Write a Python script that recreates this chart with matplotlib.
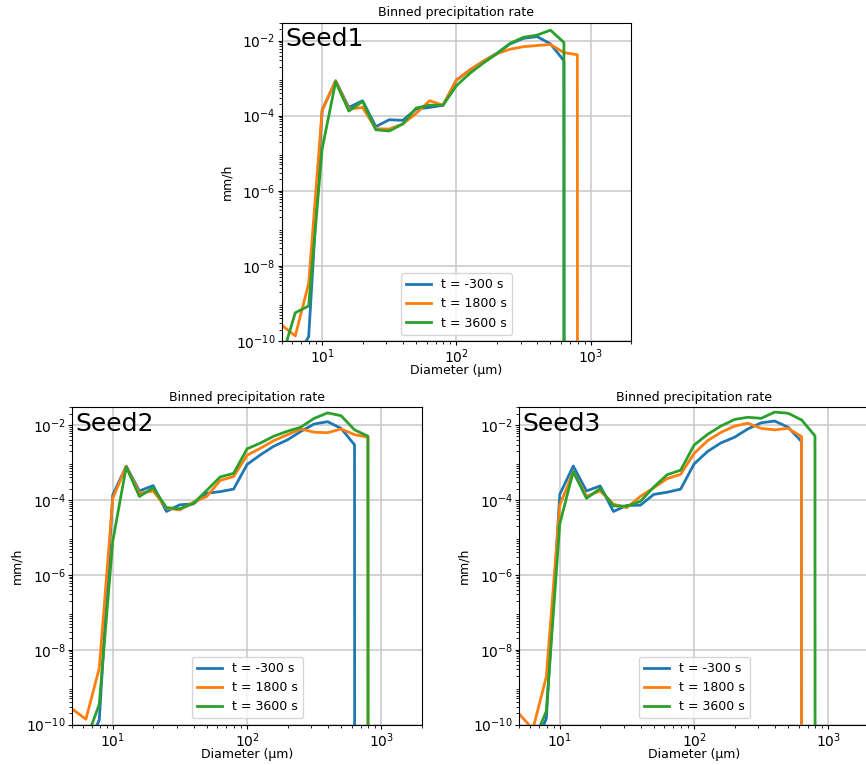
import matplotlib
matplotlib.use('Agg')
import matplotlib.pyplot as plt

# bin centre diameters (um)
diameter = [5.01, 6.31, 7.94, 10.0, 12.6, 15.8, 20.0, 25.1, 31.6, 39.8, 50.1, 63.1,
            79.4, 100.0, 126.0, 158.0, 200.0, 251.0, 316.0, 398.0, 501.0, 631.0, 794.0, 1000.0]

labels = ['t = -300 s', 't = 1800 s', 't = 3600 s']
colors = ['#1f77b4', '#ff7f0e', '#2ca02c']

seed1_m300 = [1e-12, 3e-11, 1.3e-10, 1.4e-4, 8.5e-4, 1.66e-4, 2.5e-4, 5.1e-5, 7.8e-5, 7.5e-5, 1.5e-4, 1.66e-4,
              1.9e-4, 8.9e-4, 1.66e-3, 2.8e-3, 4.6e-3, 8.2e-3, 1.15e-2, 1.28e-2, 8.2e-3, 2.9e-3, 0, 0]
seed1_1800 = [2.6e-10, 1.35e-10, 3.4e-9, 1.4e-4, 8.5e-4, 1.5e-4, 1.66e-4, 4.5e-5, 4.4e-5, 6e-5, 1.15e-4, 2.5e-4,
              1.9e-4, 8.9e-4, 1.66e-3, 2.8e-3, 4.5e-3, 5.9e-3, 6.9e-3, 7.4e-3, 7.9e-3, 4.8e-3, 4.2e-3, 0]
seed1_3600 = [3.6e-11, 5.6e-10, 8.5e-10, 1.3e-5, 8e-4, 1.33e-4, 2.4e-4, 4.2e-5, 3.9e-5, 6e-5, 1.6e-4, 1.9e-4,
              1.9e-4, 6.3e-4, 1.35e-3, 2.5e-3, 4.5e-3, 8.5e-3, 1.23e-2, 1.4e-2, 1.9e-2, 8.9e-3, 0, 0]

seed2_m300 = [1e-12, 2e-11, 1.35e-10, 1.35e-4, 7.9e-4, 1.73e-4, 2.4e-4, 4.9e-5, 7.4e-5, 7.8e-5, 1.5e-4, 1.66e-4,
              1.94e-4, 8.8e-4, 1.6e-3, 2.7e-3, 4e-3, 6.7e-3, 1.06e-2, 1.22e-2, 8.1e-3, 2.95e-3, 0, 0]
seed2_1800 = [2.6e-10, 1.4e-10, 3.2e-9, 1.1e-4, 7.9e-4, 1.5e-4, 1.73e-4, 6e-5, 5.4e-5, 8.7e-5, 1.23e-4, 3.3e-4,
              4.2e-4, 1.55e-3, 2.4e-3, 3.8e-3, 5.5e-3, 7.8e-3, 6.4e-3, 6.2e-3, 7.8e-3, 5.5e-3, 4.7e-3, 0]
seed2_3600 = [1e-12, 3.7e-11, 3.5e-10, 7.9e-6, 7.6e-4, 1.23e-4, 2.1e-4, 6.2e-5, 5.8e-5, 8e-5, 1.8e-4, 4.1e-4,
              5.1e-4, 2.3e-3, 3.3e-3, 5e-3, 6.8e-3, 8.7e-3, 1.5e-2, 2.1e-2, 1.76e-2, 7.4e-3, 5e-3, 0]

seed3_m300 = [1e-12, 2e-11, 1.45e-10, 1.4e-4, 8e-4, 1.73e-4, 2.35e-4, 4.9e-5, 7.1e-5, 7.2e-5, 1.4e-4, 1.6e-4,
              1.94e-4, 9.1e-4, 1.96e-3, 3.3e-3, 4.7e-3, 7.8e-3, 1.14e-2, 1.27e-2, 8.7e-3, 3.6e-3, 0, 0]
seed3_1800 = [1.9e-10, 7.6e-11, 1.9e-9, 7.2e-5, 5.6e-4, 1.25e-4, 1.73e-4, 7.7e-5, 6.2e-5, 1.24e-4, 2.1e-4, 3.7e-4,
              4.8e-4, 1.73e-3, 3.8e-3, 6.3e-3, 9.3e-3, 1.11e-2, 8.1e-3, 7.4e-3, 8.1e-3, 4.9e-3, 0, 0]
seed3_3600 = [1e-12, 3.2e-11, 2.3e-10, 2.3e-5, 5.7e-4, 1.1e-4, 2e-4, 6.9e-5, 6.8e-5, 9.1e-5, 2.2e-4, 4.7e-4,
              6.2e-4, 2.9e-3, 5.6e-3, 9.3e-3, 1.4e-2, 1.6e-2, 1.5e-2, 2.2e-2, 2.05e-2, 1.36e-2, 5.1e-3, 0]

seeds = {
    'Seed1': [seed1_m300, seed1_1800, seed1_3600],
    'Seed2': [seed2_m300, seed2_1800, seed2_3600],
    'Seed3': [seed3_m300, seed3_1800, seed3_3600],
}

# axes boxes in figure fraction, the third one runs past the right edge like the original
boxes = {
    'Seed1': [0.3253, 0.5545, 0.4036, 0.4158],
    'Seed2': [0.0835, 0.0527, 0.4036, 0.4152],
    'Seed3': [0.5997, 0.0527, 0.4036, 0.4152],
}

fig = plt.figure(figsize=(8.66, 7.65), dpi=100)

for name, series in seeds.items():
    ax = fig.add_axes(boxes[name])
    for vals, lab, c in zip(series, labels, colors):
        ax.plot(diameter, vals, color=c, lw=2, label=lab)
    ax.set_xscale('log')
    ax.set_yscale('log')
    ax.set_xlim(5, 2000)
    ax.set_ylim(1e-10, 3e-2)
    ax.set_yticks([1e-10, 1e-8, 1e-6, 1e-4, 1e-2])
    ax.tick_params(axis='both', which='major', labelsize=10, length=3, pad=1.5)
    ax.tick_params(axis='both', which='minor', length=2)
    ax.set_title('Binned precipitation rate', fontsize=9, pad=4.5)
    ax.set_xlabel('Diameter (µm)', fontsize=9, labelpad=-1)
    ax.set_ylabel('mm/h', fontsize=9, labelpad=2)
    ax.grid(True, which='major', color='#c8c8c8', lw=1.1)
    ax.text(0.01, 0.985, name, transform=ax.transAxes, va='top', ha='left', fontsize=18)
    ax.legend(loc='lower center', fontsize=9)

fig.savefig('out.png', dpi=100)
